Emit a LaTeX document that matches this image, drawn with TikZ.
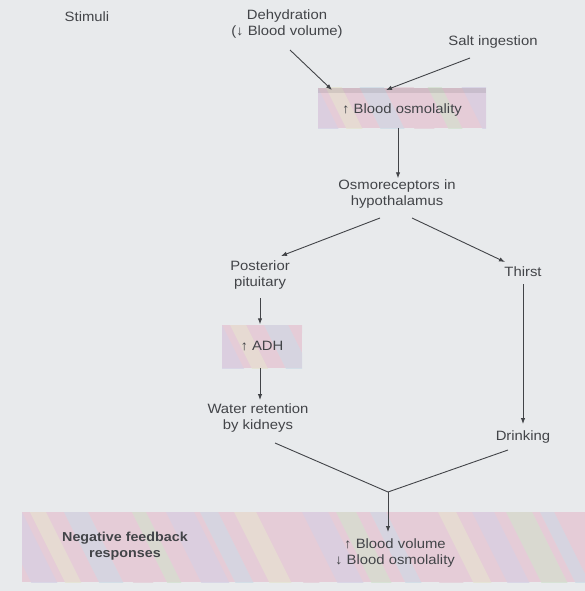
\documentclass[tikz,border=0pt]{standalone}
\usepackage{fontspec}
\setmainfont{Liberation Sans}[FakeStretch=1.1]
\usetikzlibrary{arrows.meta,calc}
\definecolor{paper}{RGB}{232,234,236}
\definecolor{ink}{RGB}{66,68,72}
\definecolor{pinkA}{RGB}{226,198,210}
\definecolor{greenA}{RGB}{204,222,198}
\definecolor{lavA}{RGB}{208,202,226}
\definecolor{blueA}{RGB}{198,214,228}
\definecolor{yelA}{RGB}{228,224,200}
\tikzset{
  lbl/.style={text=ink, font=\fontsize{13.5}{16.5}\selectfont, align=center, inner sep=1pt},
  flow/.style={draw=ink, line width=0.9pt, -{Latex[length=6pt,width=4.5pt]}},
  plain/.style={draw=ink, line width=0.9pt},
}
% pastel iridescent fill for a rectangle given by two corners
\newcommand{\irisbox}[2]{%
  \begin{scope}
    \clip #1 rectangle #2;
    \fill[pinkA] #1 rectangle #2;
    \foreach \k/\c/\w in {0/greenA/18,1/lavA/26,2/yelA/16,3/blueA/24,4/pinkA/20,5/greenA/14,6/lavA/28,7/blueA/18,8/yelA/22,9/pinkA/16,10/lavA/26,11/greenA/20,12/blueA/16,13/pinkA/24,14/yelA/18,15/lavA/22,16/greenA/26,17/blueA/14,18/pinkA/20,19/lavA/24}{
      \fill[\c, opacity=0.6] ($#1+(\k*34-70,-20)$) -- ++(\w,0) -- ++(70,140) -- ++(-\w,0) -- cycle;
    }
    \fill[white, opacity=0.12] #1 rectangle #2;
  \end{scope}}
\begin{document}
\begin{tikzpicture}[x=1pt,y=-1pt]
  \fill[paper] (0,0) rectangle (585,591);
  \useasboundingbox (0,0) rectangle (585,591);

  % coloured panels
  \irisbox{(318,88)}{(486,128)}
  \fill[ink, opacity=0.12] (318,88) rectangle (486,93);
  \irisbox{(222,325)}{(302,368)}
  \irisbox{(22,512)}{(585,582)}

  \node[lbl] (stim) at (87,17) {Stimuli};
  \node[lbl] (dehyd) at (287,24) {Dehydration\\(↓ Blood volume)};
  \node[lbl] (salt) at (493,42) {Salt ingestion};
  \node[lbl, minimum width=168pt, minimum height=40pt] (osm) at (402,110) {↑ Blood osmolality};
  \node[lbl] (rec) at (397,194) {Osmoreceptors in\\hypothalamus};
  \node[lbl] (pit) at (260,275) {Posterior\\pituitary};
  \node[lbl] (thirst) at (523,272) {Thirst};
  \node[lbl, minimum width=80pt, minimum height=43pt] (adh) at (262,346) {↑ ADH};
  \node[lbl] (water) at (258,418) {Water retention\\by kidneys};
  \node[lbl] (drink) at (523,437) {Drinking};
  \node[lbl, font=\fontsize{13}{16.5}\selectfont\bfseries] (neg) at (125,546) {Negative feedback\\responses};
  \node[lbl] (res) at (395,553) {↑ Blood volume\\↓ Blood osmolality};
  \coordinate (join) at (388,492);

  \draw[flow] (290,50) -- (332,90);
  \draw[flow] (470,58) -- (386,90);
  \draw[flow] (398,128) -- (rec.north -| 398,0);
  \draw[flow] (380,218) -- (281,256);
  \draw[flow] (412,218) -- (505,262);
  \draw[flow] (260,298) -- (adh.north -| 260,0);
  \draw[flow] (260,368) -- (260,400);
  \draw[flow] (523,284) -- (523,424);
  \draw[plain] (275,443) -- (join);
  \draw[plain] (508,450) -- (join);
  \draw[flow] (join) -- (388,532);
\end{tikzpicture}
\end{document}
